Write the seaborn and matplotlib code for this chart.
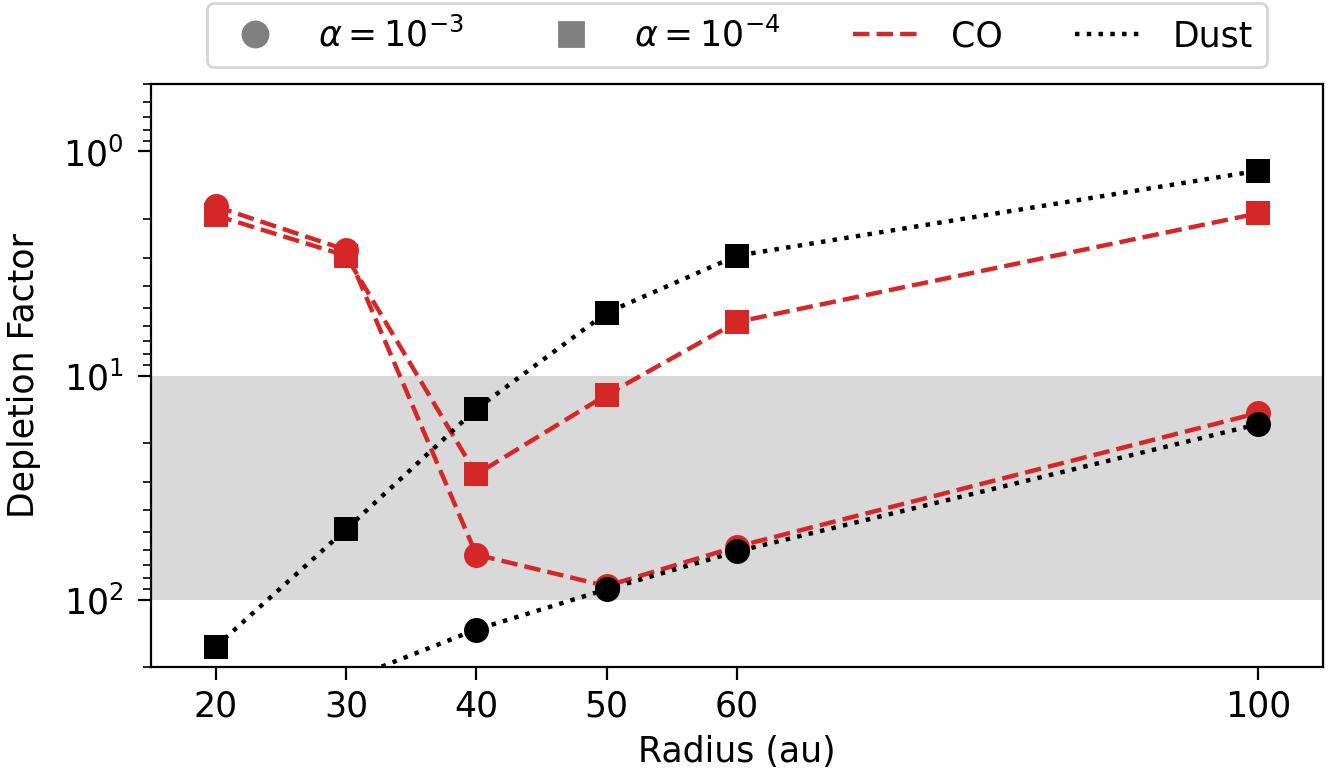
import numpy as np
import pandas as pd
import seaborn as sns
import matplotlib
matplotlib.use('Agg')
import matplotlib.pyplot as plt
from matplotlib.lines import Line2D

# radius in au
radius = [20, 30, 40, 50, 60, 100]

# depletion factors
co_a3 = [1.76, 2.75, 63, 87, 58, 14.7]
co_a4 = [1.93, 2.92, 27.6, 12.2, 5.77, 1.89]
dust_a3 = [800, 230, 136, 90, 61, 16.5]
dust_a4 = [162, 48.6, 14.1, 5.25, 2.92, 1.22]

red = '#d62728'

plt.rcParams['font.size'] = 12.5
plt.rcParams['xtick.major.size'] = 4.7
plt.rcParams['ytick.major.size'] = 4.7
plt.rcParams['ytick.minor.size'] = 2.9
plt.rcParams['ytick.major.pad'] = 5
fig = plt.figure(figsize=(6.665, 3.91), dpi=200)
ax = fig.add_axes([0.113, 0.147, 0.8795, 0.7456])

ax.axhspan(10, 100, color='#d9d9d9', zorder=0, lw=0)

sns.lineplot(x=radius, y=co_a3, ax=ax, color=red, linestyle='--', lw=1.6,
             marker='o', markersize=9, markeredgewidth=0)
sns.lineplot(x=radius, y=co_a4, ax=ax, color=red, linestyle='--', lw=1.6,
             marker='s', markersize=8.5, markeredgewidth=0)
sns.lineplot(x=radius, y=dust_a3, ax=ax, color='black', linestyle=':', lw=1.6,
             marker='o', markersize=9, markeredgewidth=0)
sns.lineplot(x=radius, y=dust_a4, ax=ax, color='black', linestyle=':', lw=1.6,
             marker='s', markersize=8.5, markeredgewidth=0)

ax.set_yscale('log')
ax.set_ylim(200, 0.5)
ax.set_xlim(15, 105)
ax.set_xticks(radius)
ax.set_xlabel('Radius (au)')
ax.set_ylabel('Depletion Factor', labelpad=8)

handles = [
    Line2D([], [], color='grey', marker='o', linestyle='none', markersize=9),
    Line2D([], [], color='grey', marker='s', linestyle='none', markersize=8.5),
    Line2D([], [], color=red, linestyle='--', lw=1.6),
    Line2D([], [], color='black', linestyle=':', lw=1.6),
]
labels = [r'$\alpha = 10^{-3}$', r'$\alpha = 10^{-4}$', 'CO', 'Dust']
ax.legend(handles, labels, ncol=4, loc='lower center',
          bbox_to_anchor=(0.5, 1.029), borderaxespad=0, columnspacing=2.1)

fig.savefig('out.png', dpi=200)
